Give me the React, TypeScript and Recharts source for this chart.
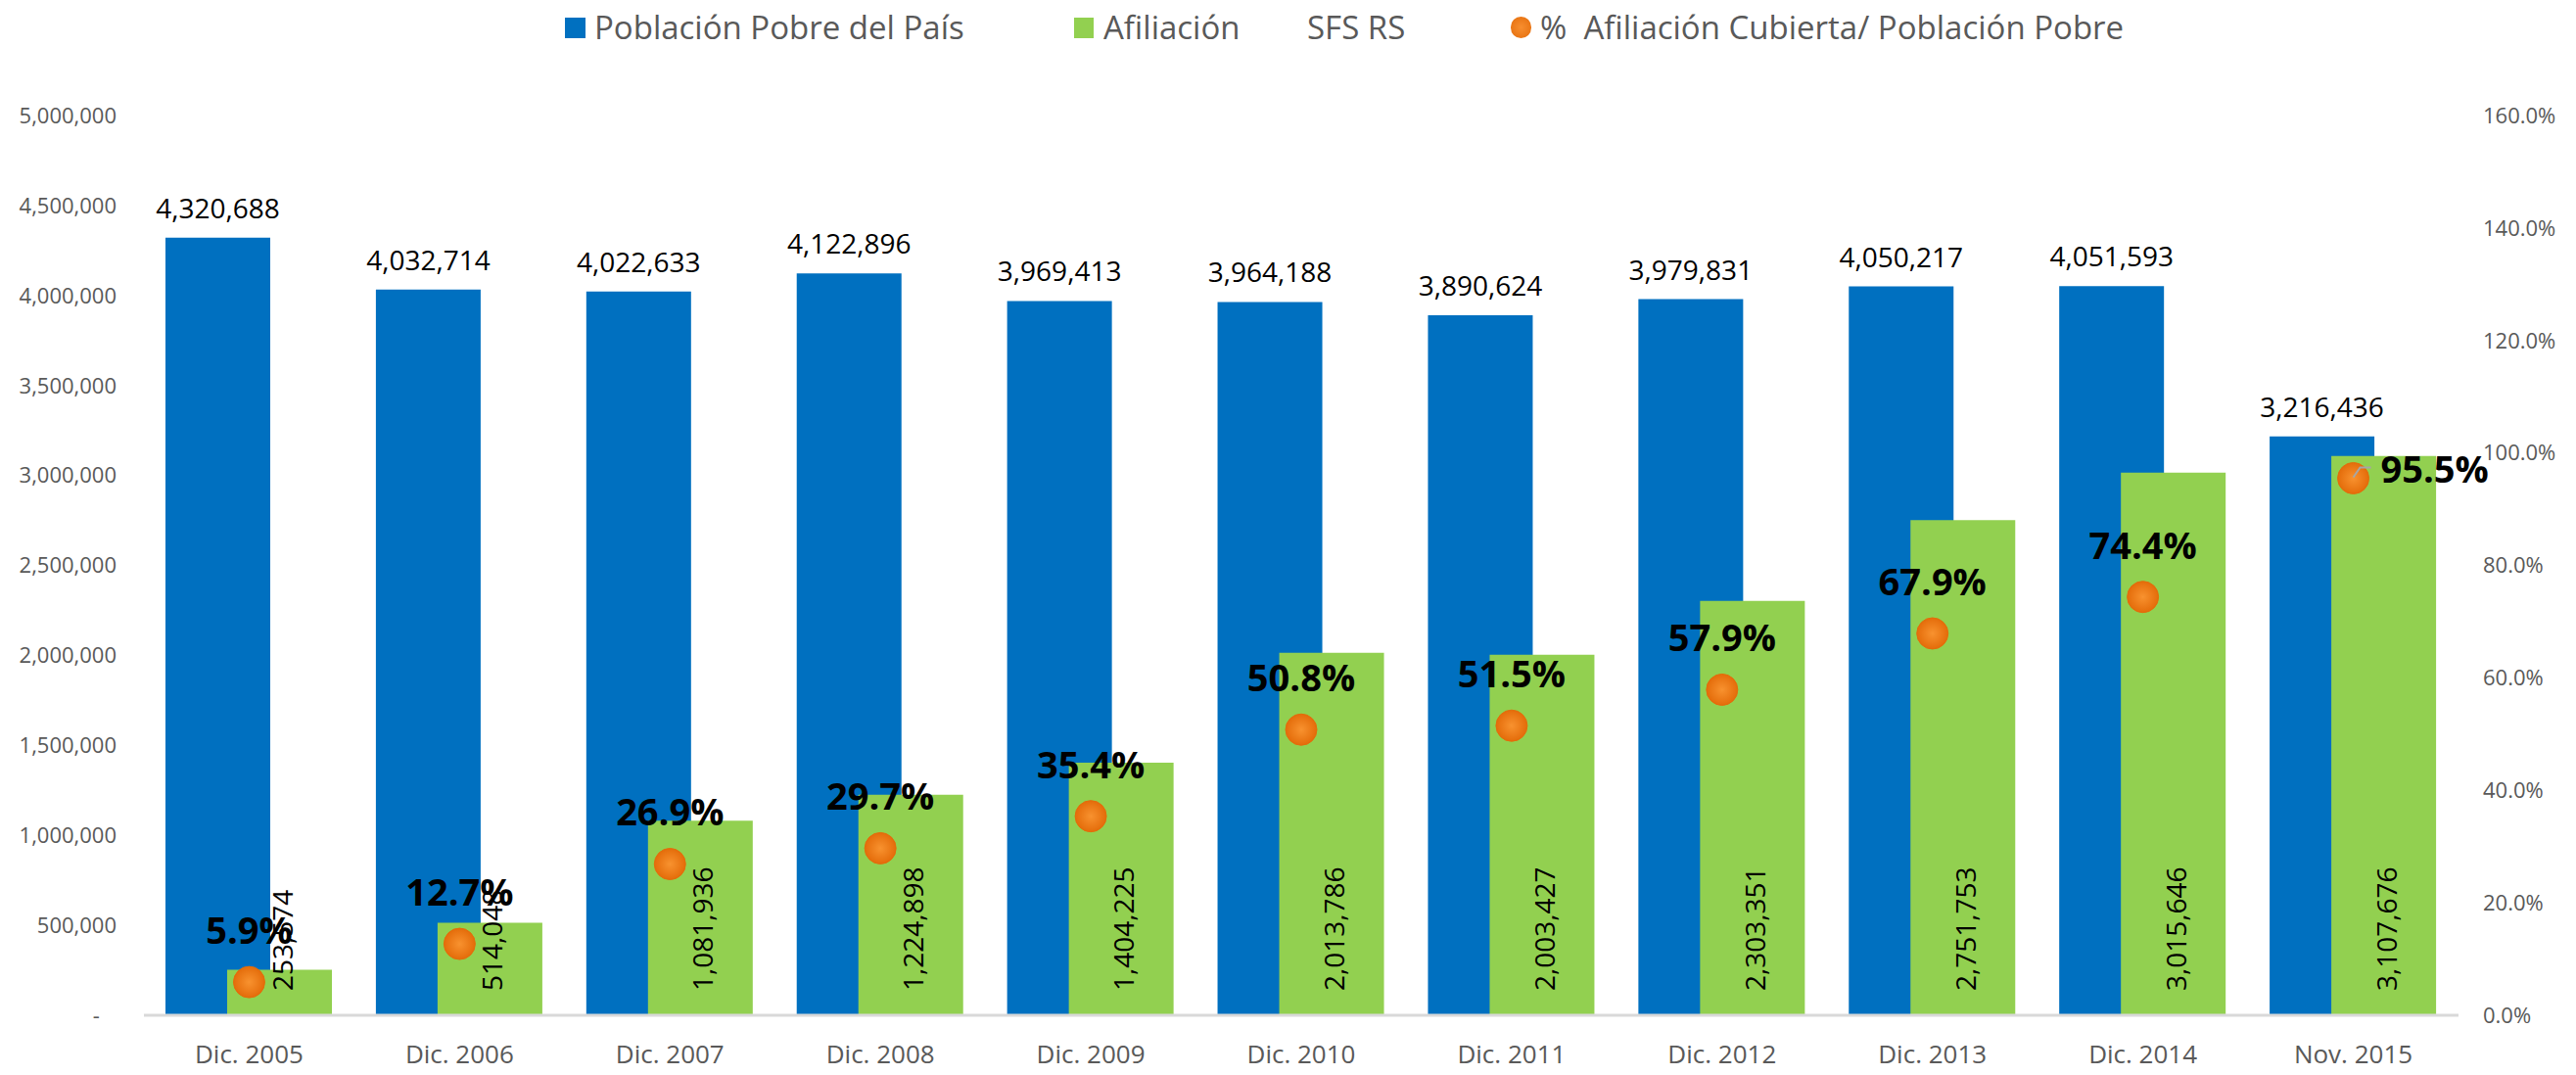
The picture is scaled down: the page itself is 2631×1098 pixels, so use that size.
import React from 'react';
import { ComposedChart, Bar, Line, XAxis, YAxis, LabelList } from 'recharts';

const categories = [
  'Dic. 2005', 'Dic. 2006', 'Dic. 2007', 'Dic. 2008', 'Dic. 2009', 'Dic. 2010',
  'Dic. 2011', 'Dic. 2012', 'Dic. 2013', 'Dic. 2014', 'Nov. 2015',
];
const poblacionPobre = [
  4320688, 4032714, 4022633, 4122896, 3969413, 3964188,
  3890624, 3979831, 4050217, 4051593, 3216436,
];
const afiliacion = [
  253574, 514048, 1081936, 1224898, 1404225, 2013786,
  2003427, 2303351, 2751753, 3015646, 3107676,
];
const coberturaPct = [5.9, 12.7, 26.9, 29.7, 35.4, 50.8, 51.5, 57.9, 67.9, 74.4, 95.5];
const leftTicks = [0, 500000, 1000000, 1500000, 2000000, 2500000, 3000000, 3500000, 4000000, 4500000, 5000000];
const rightTicks = [0, 20, 40, 60, 80, 100, 120, 140, 160];

const FONT = '"Open Sans", sans-serif';
const BLUE = '#0070C0';
const GREEN = '#92D050';
const AXIS_TEXT = '#595959';

const data = categories.map((cat, i) => ({
  cat,
  pobre: poblacionPobre[i],
  afil: afiliacion[i],
  pct: coberturaPct[i],
}));

const fmtNum = (v: number) => v.toLocaleString('en-US');

// pull geometry from label props (x/y directly or via viewBox)
const geo = (p: any) => {
  const vb = p.viewBox || {};
  return {
    x: Number(p.x ?? vb.x),
    y: Number(p.y ?? vb.y),
    w: Number(p.width ?? vb.width ?? 0),
    h: Number(p.height ?? vb.height ?? 0),
  };
};

const TopLabel = (p: any) => {
  const { x, y, w } = geo(p);
  return (
    <text x={x + w / 2} y={y - 20} textAnchor="middle" fontSize={28} fontFamily={FONT} fill="#000">
      {fmtNum(Number(p.value))}
    </text>
  );
};

const RotatedLabel = (p: any) => {
  const { x, y, w, h } = geo(p);
  const cx = x + w / 2 + 2;
  const cy = y + h - 25;
  return (
    <text
      x={cx}
      y={cy}
      transform={`rotate(-90, ${cx}, ${cy})`}
      textAnchor="start"
      dominantBaseline="central"
      fontSize={28}
      fontFamily={FONT}
      fill="#000"
    >
      {fmtNum(Number(p.value))}
    </text>
  );
};

const PctLabel = (p: any) => {
  const { x, y } = geo(p);
  const txt = `${Number(p.value).toFixed(1)}%`;
  if (p.index === coberturaPct.length - 1) {
    return (
      <g>
        <polyline
          points={`${x},${y - 1} ${x + 7},${y - 11} ${x + 18},${y - 11}`}
          fill="none"
          stroke="#A6A6A6"
          strokeWidth={2}
        />
        <text x={x + 28} y={y + 5} fontSize={38} fontWeight="bold" fontFamily={FONT} fill="#000">
          {txt}
        </text>
      </g>
    );
  }
  return (
    <text x={x} y={y - 39} textAnchor="middle" fontSize={38} fontWeight="bold" fontFamily={FONT} fill="#000">
      {txt}
    </text>
  );
};

const Dot = (p: any) => (
  <circle key={`dot-${p.index}`} cx={p.cx} cy={p.cy} r={16} fill="url(#dotGrad)" stroke="#E46C0A" strokeWidth={1} />
);

const legendText: React.CSSProperties = {
  position: 'absolute',
  top: 8,
  fontSize: 33,
  lineHeight: '40px',
  color: AXIS_TEXT,
  whiteSpace: 'pre',
  fontFamily: FONT,
};

const Legend = () => (
  <div style={{ position: 'absolute', left: 0, top: 0, width: 2631, height: 60 }}>
    <div style={{ position: 'absolute', left: 577, top: 18, width: 21, height: 21, background: BLUE }} />
    <div style={{ ...legendText, left: 607 }}>Población Pobre del País</div>
    <div style={{ position: 'absolute', left: 1097, top: 18, width: 20, height: 21, background: GREEN }} />
    <div style={{ ...legendText, left: 1127 }}>Afiliación</div>
    <div style={{ ...legendText, left: 1335 }}>SFS RS</div>
    <div
      style={{
        position: 'absolute',
        left: 1543,
        top: 17,
        width: 21,
        height: 22,
        borderRadius: 11,
        background: 'radial-gradient(circle, #F78E2F 0%, #E46C0A 100%)',
      }}
    />
    <div style={{ ...legendText, left: 1573 }}>%  Afiliación Cubierta/ Población Pobre</div>
  </div>
);

export default function App() {
  return (
    <div style={{ position: 'absolute', left: 0, top: 0, width: 2631, height: 1098, background: '#fff', fontFamily: FONT }}>
      <ComposedChart
        width={2631}
        height={1098}
        data={data}
        margin={{ top: 118, right: 0, bottom: 0, left: 0 }}
        barGap={-44}
      >
        <defs>
          <radialGradient id="dotGrad" cx="50%" cy="50%" r="50%">
            <stop offset="0%" stopColor="#F8922F" />
            <stop offset="100%" stopColor="#E46C0A" />
          </radialGradient>
        </defs>
        <XAxis
          dataKey="cat"
          height={61}
          tickLine={false}
          tickSize={0}
          tickMargin={31}
          axisLine={{ stroke: '#D9D9D9', strokeWidth: 3 }}
          tick={{ fontSize: 26, fill: AXIS_TEXT, fontFamily: FONT }}
          interval={0}
        />
        <YAxis
          yAxisId="left"
          orientation="left"
          width={147}
          domain={[0, 5000000]}
          ticks={leftTicks}
          tickLine={false}
          axisLine={false}
          tickSize={0}
          tickMargin={28}
          tick={{ fontSize: 22, fill: AXIS_TEXT, fontFamily: FONT }}
          tickFormatter={(v: number) => (v === 0 ? '-\u00A0\u00A0\u00A0' : fmtNum(v))}
        />
        <YAxis
          yAxisId="right"
          orientation="right"
          width={120}
          domain={[0, 160]}
          ticks={rightTicks}
          tickLine={false}
          axisLine={false}
          tickSize={0}
          tickMargin={25}
          tick={{ fontSize: 22, fill: AXIS_TEXT, fontFamily: FONT }}
          tickFormatter={(v: number) => `${v.toFixed(1)}%`}
        />
        <Bar yAxisId="left" dataKey="pobre" fill={BLUE} barSize={107} isAnimationActive={false}>
          <LabelList dataKey="pobre" content={TopLabel} />
        </Bar>
        <Bar yAxisId="left" dataKey="afil" fill={GREEN} barSize={107} isAnimationActive={false}>
          <LabelList dataKey="afil" content={RotatedLabel} />
        </Bar>
        <Line
          yAxisId="right"
          dataKey="pct"
          stroke="none"
          strokeWidth={0}
          dot={Dot}
          activeDot={false}
          isAnimationActive={false}
        >
          <LabelList dataKey="pct" content={PctLabel} />
        </Line>
      </ComposedChart>
      <Legend />
    </div>
  );
}
